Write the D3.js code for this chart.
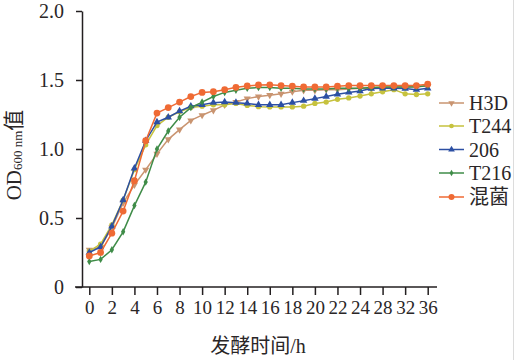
<!DOCTYPE html>
<html>
<head>
<meta charset="utf-8">
<script src="https://cdn.jsdelivr.net/npm/d3@7"></script>
<style>
  html, body { margin: 0; padding: 0; background: #fff; }
  svg { display: block; }
  text { font-family: "Liberation Serif", "Noto Sans CJK SC", serif; fill: #2a2627; }
</style>
</head>
<body>
<svg id="chart" width="517" height="360"></svg>
<script>
// ---- data ----
const times = [0,1,2,3,4,5,6,7,8,9,10,11,12,13,14,15,16,17,18,19,20,21,22,23,24,26,28,30,32,34,36];
const tickTimes = [0,2,4,6,8,10,12,14,16,18,20,22,24,28,32,36];
const yTicks = [0, 0.5, 1.0, 1.5, 2.0];
const seriesNames = ["H3D", "T244", "206", "T216", "混菌"];
const H3D  = [0.27,0.29,0.43,0.61,0.74,0.85,0.965,1.07,1.14,1.207,1.245,1.28,1.32,1.34,1.365,1.38,1.39,1.40,1.415,1.425,1.425,1.43,1.43,1.435,1.44,1.44,1.445,1.45,1.45,1.455,1.455];
const T244 = [0.26,0.31,0.45,0.63,0.85,1.03,1.17,1.23,1.27,1.30,1.31,1.32,1.32,1.33,1.316,1.307,1.305,1.305,1.305,1.31,1.33,1.34,1.36,1.37,1.384,1.40,1.415,1.43,1.40,1.395,1.40];
const S206 = [0.25,0.29,0.44,0.63,0.86,1.06,1.195,1.23,1.275,1.31,1.32,1.336,1.34,1.336,1.33,1.32,1.32,1.32,1.336,1.35,1.365,1.38,1.396,1.41,1.42,1.438,1.44,1.44,1.438,1.43,1.44];
const T216 = [0.184,0.20,0.27,0.40,0.59,0.76,1.00,1.13,1.23,1.30,1.34,1.38,1.41,1.425,1.44,1.445,1.445,1.44,1.44,1.435,1.435,1.435,1.44,1.44,1.44,1.445,1.45,1.45,1.45,1.45,1.46];
const MIX  = [0.225,0.25,0.39,0.55,0.77,1.06,1.26,1.30,1.34,1.38,1.41,1.415,1.43,1.447,1.457,1.464,1.465,1.46,1.455,1.45,1.45,1.45,1.455,1.46,1.46,1.46,1.46,1.46,1.46,1.46,1.47];
const seriesValues = [H3D, T244, S206, T216, MIX];

// ---- styles ----
const colors = ["#c99470", "#c6c23e", "#2c4fa3", "#3f8c48", "#ef6a34"];
const symbols = [
  {type: d3.symbolTriangle, size: 22, rot: 180},
  {type: d3.symbolCircle, size: 22, rot: 0},
  {type: d3.symbolTriangle, size: 24, rot: 0},
  {type: d3.symbolDiamond, size: 16, rot: 0},
  {type: d3.symbolCircle, size: 36, rot: 0}
];

const svg = d3.select("#chart");
const x = d3.scalePoint().domain(times).range([89.3, 427.7]).padding(0);
const y = d3.scaleLinear().domain([0, 2]).range([287, 11]);

// right edge faint border
svg.append("line").attr("x1", 513.5).attr("x2", 513.5).attr("y1", 0).attr("y2", 360)
  .attr("stroke", "#dcdcdc").attr("stroke-width", 1);

// x axis
const xAxis = svg.append("g").attr("transform", "translate(0,287)")
  .call(d3.axisBottom(x).tickValues(tickTimes).tickSize(8).tickSizeOuter(0).tickPadding(6));
xAxis.select(".domain").attr("d", "M75,0H437").attr("stroke", "#231f20").attr("stroke-width", 1.5);
xAxis.selectAll(".tick line").attr("stroke", "#231f20").attr("stroke-width", 1.5);
xAxis.selectAll(".tick text").attr("font-size", 19).attr("font-family", "Liberation Serif").attr("fill", "#2a2627");

// y axis
const yAxis = svg.append("g").attr("transform", "translate(82,0)")
  .call(d3.axisLeft(y).tickValues(yTicks).tickSize(6).tickSizeOuter(0).tickPadding(12)
    .tickFormat(d => d === 0 ? "0" : d3.format(".1f")(d)));
yAxis.select(".domain").attr("stroke", "#231f20").attr("stroke-width", 1.5);
yAxis.selectAll(".tick line").attr("stroke", "#231f20").attr("stroke-width", 1.5);
yAxis.selectAll(".tick text").attr("font-size", 20).attr("font-family", "Liberation Serif").attr("fill", "#2a2627");

// axis titles
svg.append("text").attr("x", 258).attr("y", 353).attr("text-anchor", "middle")
  .attr("font-size", 20).text("发酵时间/h");

const yt = svg.append("text").attr("transform", "translate(21,155) rotate(-90)")
  .attr("text-anchor", "middle").attr("font-size", 21);
yt.append("tspan").text("OD");
yt.append("tspan").attr("font-size", 13).attr("dy", 1).text("600 nm");
yt.append("tspan").attr("dy", -1).text("值");

// series
const line = d3.line().x((d, i) => x(times[i])).y(d => y(d));
seriesValues.forEach((vals, s) => {
  const g = svg.append("g");
  g.append("path").datum(vals).attr("d", line).attr("fill", "none")
    .attr("stroke", colors[s]).attr("stroke-width", 1.5);
  const sym = d3.symbol().type(symbols[s].type).size(symbols[s].size);
  g.selectAll("path.pt").data(vals).enter().append("path").attr("class", "pt")
    .attr("d", sym)
    .attr("transform", (d, i) => `translate(${x(times[i])},${y(d)}) rotate(${symbols[s].rot})`)
    .attr("fill", colors[s]);
});

// legend
const legendY = [103, 126, 149.5, 173, 197];
seriesNames.forEach((name, s) => {
  const g = svg.append("g").attr("transform", `translate(0,${legendY[s]})`);
  g.append("line").attr("x1", 439).attr("x2", 464).attr("y1", 0).attr("y2", 0)
    .attr("stroke", colors[s]).attr("stroke-width", 1.5);
  g.append("path").attr("d", d3.symbol().type(symbols[s].type).size(symbols[s].size * 0.8))
    .attr("transform", `translate(451.5,0) rotate(${symbols[s].rot})`).attr("fill", colors[s]);
  g.append("text").attr("x", 469).attr("y", 0).attr("dy", "0.35em")
    .attr("font-size", 20).text(name);
});
</script>
</body>
</html>
